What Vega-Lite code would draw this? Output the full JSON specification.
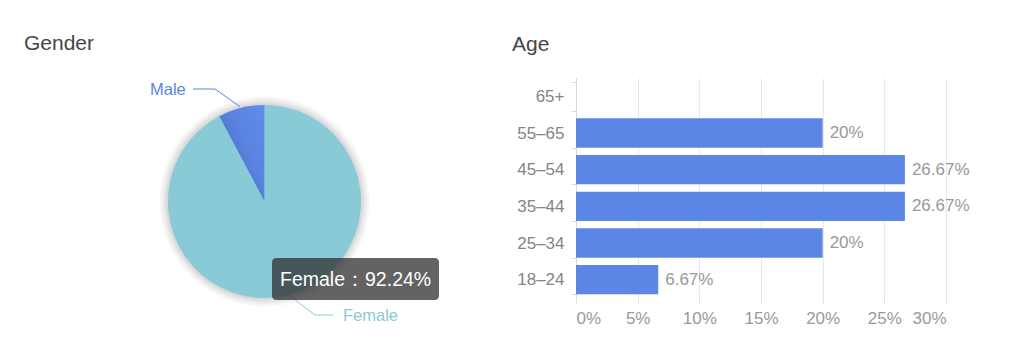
{
  "$schema": "https://vega.github.io/schema/vega-lite/v6.json",
  "padding": {"left": 24, "top": 32, "right": 0, "bottom": 0},
  "background": "#ffffff",
  "config": {
    "view": {"stroke": null},
    "font": "Liberation Sans",
    "title": {"fontSize": 21, "fontWeight": "normal", "color": "#464646", "anchor": "start", "frame": "group", "offset": 21, "font": "Liberation Sans"}
  },
  "datasets": {
    "gender": [
      {"gender": "Female", "pct": 92.24},
      {"gender": "Male", "pct": 7.76}
    ],
    "leaders": [
      {"label": "Male", "seq": 0, "x": 216, "y": 28.7},
      {"label": "Male", "seq": 1, "x": 191, "y": 11},
      {"label": "Male", "seq": 2, "x": 169, "y": 11},
      {"label": "Female", "seq": 0, "x": 265, "y": 217},
      {"label": "Female", "seq": 1, "x": 291, "y": 237},
      {"label": "Female", "seq": 2, "x": 309, "y": 237}
    ],
    "labels": [
      {"label": "Male", "x": 126, "y": 12},
      {"label": "Female", "x": 319, "y": 238}
    ],
    "tooltip": [
      {"x": 248, "x2": 415, "y": 180, "y2": 222, "tx": 256, "ty": 202, "text": "Female：92.24%"}
    ],
    "age": [
      {"age": "65+", "share": 0},
      {"age": "55–65", "share": 0.2},
      {"age": "45–54", "share": 0.26667},
      {"age": "35–44", "share": 0.26667},
      {"age": "25–34", "share": 0.2},
      {"age": "18–24", "share": 0.06667}
    ]
  },
  "hconcat": [
    {
      "title": {"text": "Gender", "offset": 24.5},
      "width": 481,
      "height": 247,
      "layer": [
        {"data": {"name": "gender"}, "mark": {"type": "arc", "radius": 105, "color": "#000000", "opacity": 0.03}, "encoding": {"theta": {"field": "pct", "type": "quantitative"}, "detail": {"field": "gender"}}},
        {"data": {"name": "gender"}, "mark": {"type": "arc", "radius": 103, "color": "#000000", "opacity": 0.03}, "encoding": {"theta": {"field": "pct", "type": "quantitative"}, "detail": {"field": "gender"}}},
        {"data": {"name": "gender"}, "mark": {"type": "arc", "radius": 101, "color": "#000000", "opacity": 0.03}, "encoding": {"theta": {"field": "pct", "type": "quantitative"}, "detail": {"field": "gender"}}},
        {"data": {"name": "gender"}, "mark": {"type": "arc", "radius": 99.5, "color": "#000000", "opacity": 0.03}, "encoding": {"theta": {"field": "pct", "type": "quantitative"}, "detail": {"field": "gender"}}},
        {"data": {"name": "gender"}, "mark": {"type": "arc", "radius": 98, "color": "#000000", "opacity": 0.03}, "encoding": {"theta": {"field": "pct", "type": "quantitative"}, "detail": {"field": "gender"}}},
        {
          "data": {"name": "gender"},
          "mark": {"type": "arc", "radius": 96.5},
          "encoding": {
            "theta": {"field": "pct", "type": "quantitative"},
            "detail": {"field": "gender"},
            "color": {
              "condition": {
                "test": "datum.gender === 'Male'",
                "value": {"gradient": "linear", "x1": 0, "y1": 1, "x2": 1, "y2": 0, "stops": [{"offset": 0, "color": "#3f60bb"}, {"offset": 0.6, "color": "#5a84e0"}, {"offset": 1, "color": "#618ce9"}]}
              },
              "value": "#88cad5"
            }
          }
        },
        {
          "data": {"name": "leaders"},
          "mark": {"type": "line", "strokeWidth": 1},
          "encoding": {
            "x": {"field": "x", "type": "quantitative", "scale": {"domain": [0, 481], "nice": false, "zero": false}, "axis": null},
            "y": {"field": "y", "type": "quantitative", "scale": {"domain": [0, 247], "nice": false, "zero": false, "reverse": true}, "axis": null},
            "detail": {"field": "label"},
            "order": {"field": "seq"},
            "color": {"field": "label", "type": "nominal", "scale": {"domain": ["Female", "Male"], "range": ["#88cad5", "#5b85e2"]}, "legend": null}
          }
        },
        {
          "data": {"name": "labels"},
          "mark": {"type": "text", "align": "left", "baseline": "middle", "fontSize": 16.5},
          "encoding": {
            "x": {"field": "x", "type": "quantitative"},
            "y": {"field": "y", "type": "quantitative"},
            "text": {"field": "label"},
            "color": {"field": "label", "type": "nominal", "legend": null}
          }
        },
        {
          "data": {"name": "tooltip"},
          "mark": {"type": "rect", "fill": "#323232", "opacity": 0.76, "cornerRadius": 4},
          "encoding": {
            "x": {"field": "x", "type": "quantitative"},
            "x2": {"field": "x2"},
            "y": {"field": "y", "type": "quantitative"},
            "y2": {"field": "y2"}
          }
        },
        {
          "data": {"name": "tooltip"},
          "mark": {"type": "text", "align": "left", "baseline": "middle", "fontSize": 19.5, "color": "#ffffff"},
          "encoding": {
            "x": {"field": "tx", "type": "quantitative"},
            "y": {"field": "ty", "type": "quantitative"},
            "text": {"field": "text"}
          }
        }
      ]
    },
    {
      "title": {"text": "Age", "dx": -64, "offset": 14},
      "width": 370,
      "height": 220,
      "data": {"name": "age"},
      "encoding": {
        "y": {
          "field": "age", "type": "nominal",
          "scale": {"domain": ["65+", "55–65", "45–54", "35–44", "25–34", "18–24"], "paddingInner": 0.2, "paddingOuter": 0.1},
          "axis": {"title": null, "tickBand": "extent", "tickSize": 5, "tickColor": "#d6d9e0", "domainColor": "#d6d9e0", "labelFontSize": 17, "labelColor": "#858585", "labelPadding": 7, "grid": false}
        },
        "x": {
          "field": "share", "type": "quantitative",
          "scale": {"domain": [0, 0.3], "nice": false},
          "axis": {"title": null, "values": [0, 0.05, 0.1, 0.15, 0.2, 0.25, 0.3], "format": ".0%", "domain": false, "grid": true, "gridColor": "#e6e8ee", "tickColor": "#e0e2e8", "tickSize": 5, "labelFontSize": 17, "labelColor": "#999999", "labelPadding": 7}
        }
      },
      "layer": [
        {"mark": {"type": "bar", "color": "#5b86e5"}},
        {
          "transform": [{"filter": "datum.share > 0"}],
          "mark": {"type": "text", "align": "left", "baseline": "middle", "dx": 7, "fontSize": 17, "color": "#999999"},
          "encoding": {"text": {"field": "share", "type": "quantitative", "format": ".2~%"}}
        }
      ]
    }
  ],
  "spacing": 71,
  "bounds": "flush"
}
